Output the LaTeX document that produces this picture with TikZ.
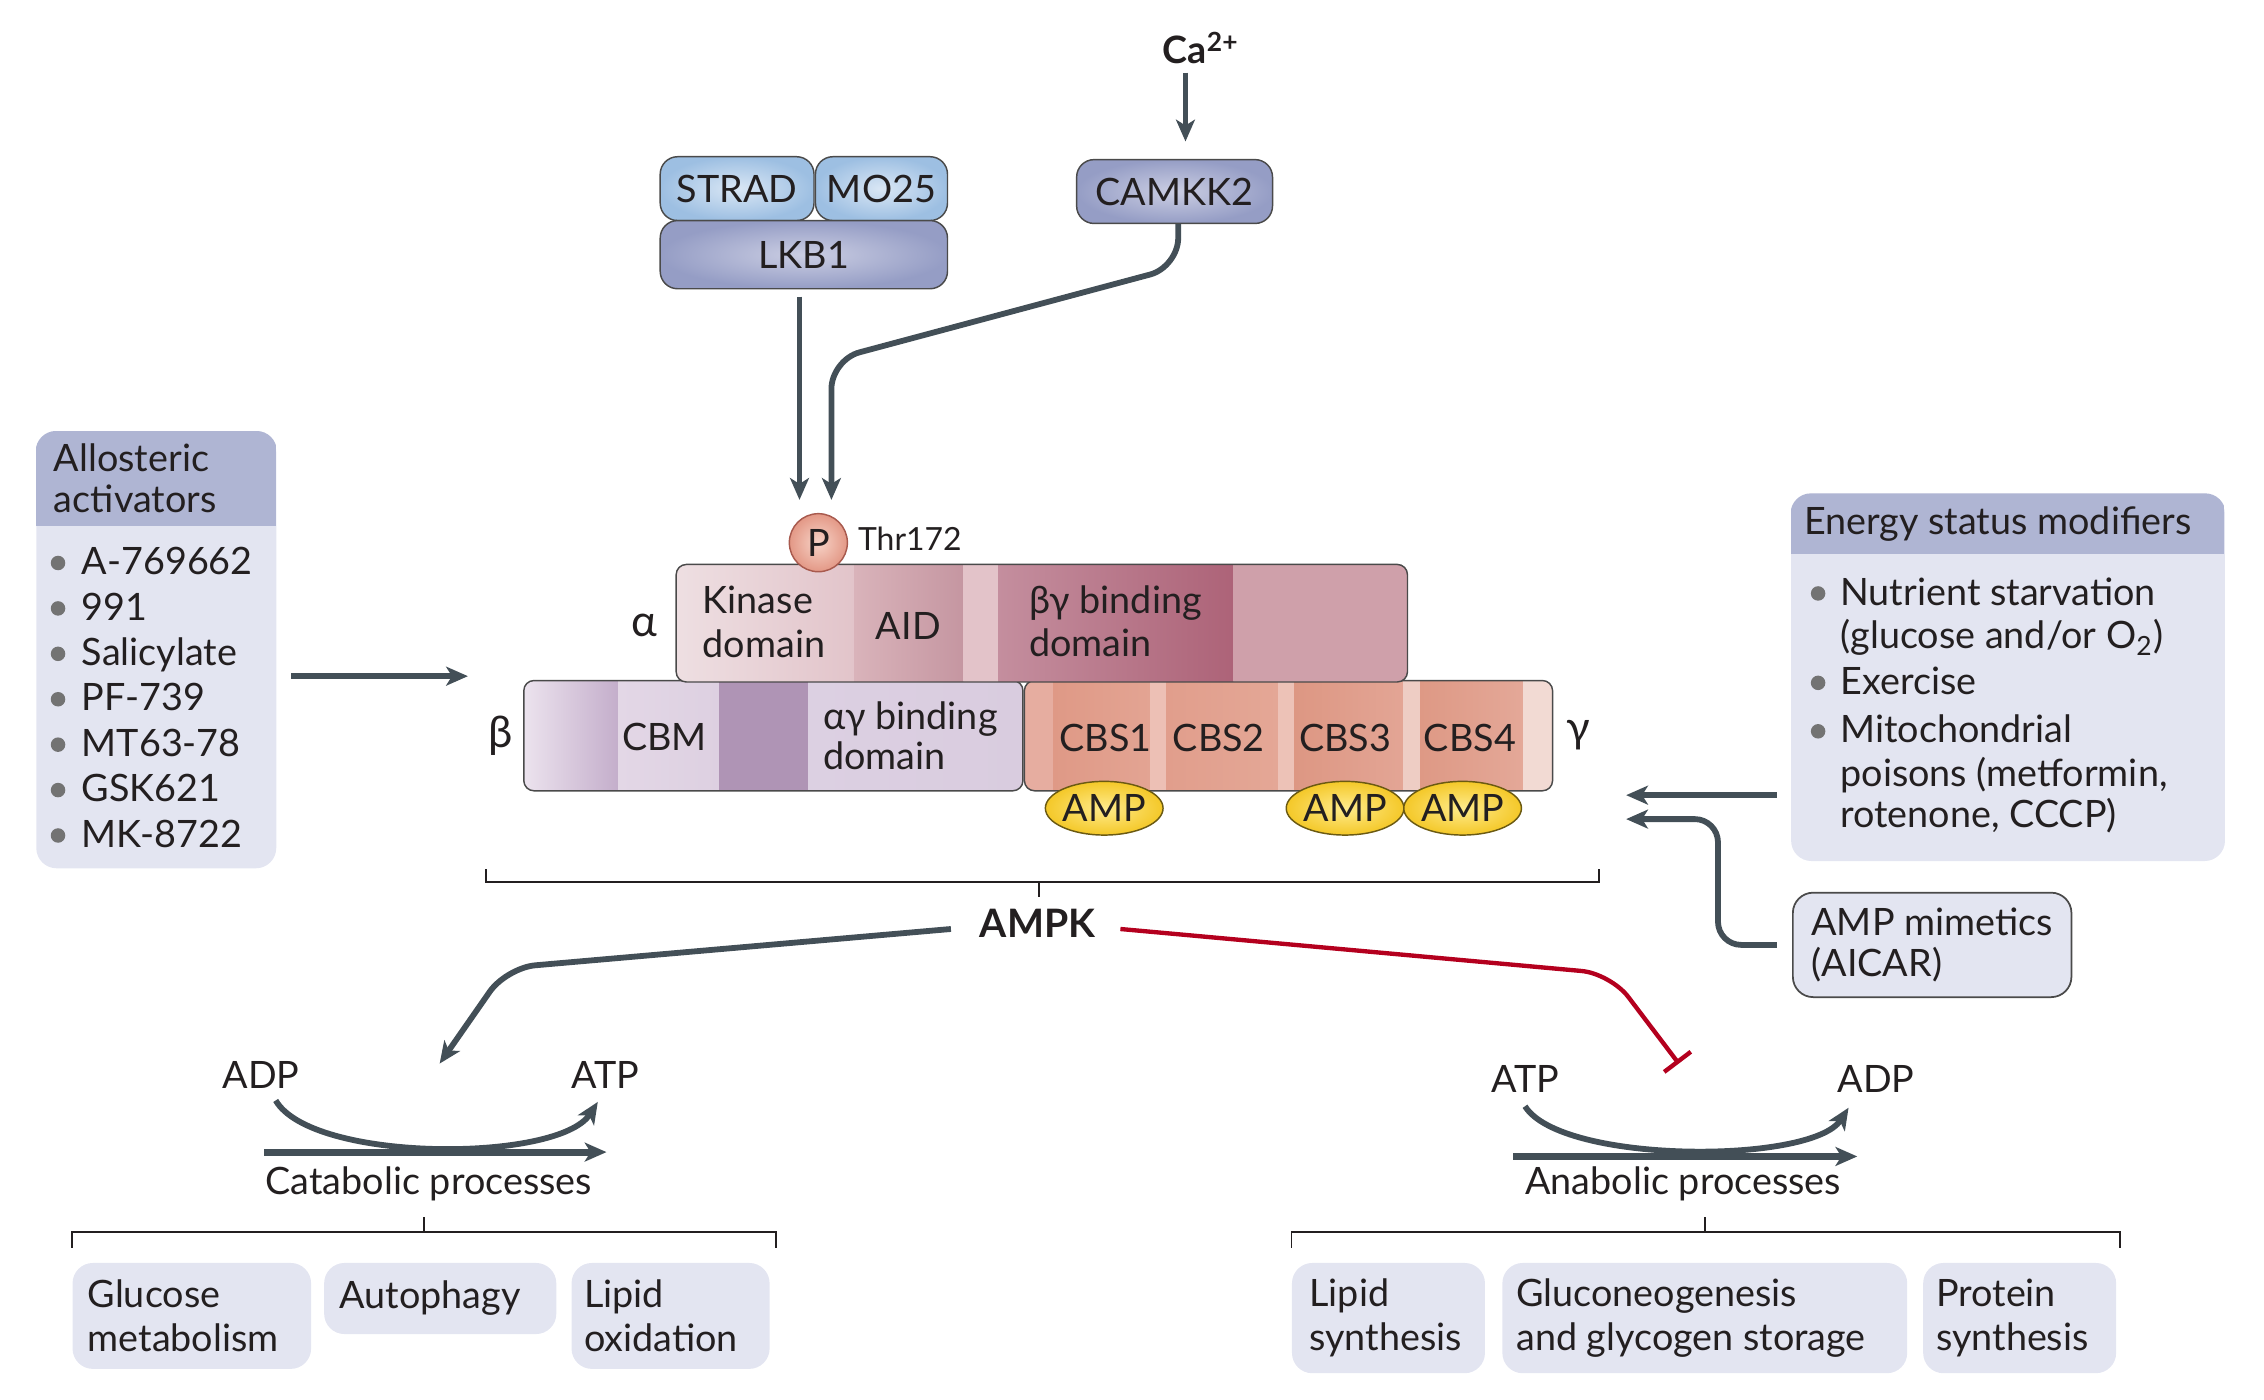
\documentclass[tikz,border=0pt]{standalone}
\usepackage{fontspec}
\setmainfont{Lato}
\usetikzlibrary{arrows.meta,shapes.geometric,positioning,calc}

\definecolor{txt}{HTML}{231F20}
\definecolor{arrgray}{HTML}{434F57}
\definecolor{inhred}{HTML}{B4001E}
\definecolor{headblue}{HTML}{AFB5D3}
\definecolor{bodyblue}{HTML}{E3E5F1}
\definecolor{bulgray}{HTML}{737373}
\definecolor{boxline}{HTML}{4A4A4A}
\definecolor{kinin}{HTML}{CBCEE3}
\definecolor{kinout}{HTML}{959DC5}
\definecolor{adin}{HTML}{DAE7F5}
\definecolor{adout}{HTML}{9DBFE2}
\definecolor{ampin}{HTML}{FFEB8C}
\definecolor{ampout}{HTML}{F4C828}
\definecolor{ampline}{HTML}{6B5A12}
\definecolor{pin}{HTML}{F7D3C7}
\definecolor{pout}{HTML}{E39886}
\definecolor{pline}{HTML}{A85A4E}

\tikzset{
  every node/.style={font=\fontsize{13}{15.5}\selectfont, text=txt},
  lbl/.style={inner sep=0pt},
  greek/.style={inner sep=0pt, font=\fontsize{15}{17}\selectfont},
  arr/.style={draw=arrgray, line width=2pt, -{Stealth[length=7.5pt,width=6.5pt,inset=2pt]}},
  bigarr/.style={arr, line width=2.4pt},
  inh/.style={draw=inhred, line width=1.5pt, -{Bar[width=11.5pt]}},
  bracket/.style={draw=txt, line width=0.6pt},
  kinase/.style={draw=boxline, line width=0.5pt, rounded corners=6pt, shading=radial, inner color=kinin, outer color=kinout, minimum height=22pt, inner sep=0pt},
  adaptor/.style={kinase, inner color=adin, outer color=adout},
  bar/.style={draw=boxline, line width=0.5pt, rounded corners=3.5pt},
  ampov/.style={ellipse, draw=ampline, line width=0.5pt, shading=radial, inner color=ampin, outer color=ampout, minimum width=39pt, minimum height=18.5pt, inner sep=0pt},
  listbody/.style={fill=bodyblue, rounded corners=7pt, anchor=north west, inner sep=0pt},
}

\begin{document}
\begin{tikzpicture}[x=0.5pt, y=-0.5pt]
\useasboundingbox (0,0) rectangle (1560.3,964.2);

% upstream kinases
\node[adaptor, minimum width=53pt] (strad) at (508,130) {STRAD};
\node[adaptor, minimum width=45.5pt] (mo25) at (607.5,130) {MO25};
\node[kinase, minimum width=99pt, minimum height=23.5pt] (lkb1) at (554,175.5) {LKB1};
\node[kinase, minimum width=67.5pt] (camkk2) at (809.5,132) {CAMKK2};
\node[lbl, anchor=base west] (ca) at (801,44) {\textbf{Ca\textsuperscript{2+}}};
\coordinate (cain) at ([shift={(3.75pt,6pt)}]camkk2.north);
\draw[arr] ($(ca.south -| cain)+(0,5.5)$) -- (cain);

% beta subunit
\begin{scope}
\clip[rounded corners=3.5pt] (361,469) rectangle (705,545);
\foreach \a/\b/\lc/\rc in {361/426/ECE3EE/C4AECB, 426/496/E3D7E6/DDD0E1, 496/557/AF94B5/AF94B5, 557/705/DCD0E2/D9CCDF}
{ \definecolor{segl}{HTML}{\lc}\definecolor{segr}{HTML}{\rc}
  \shade[left color=segl, right color=segr] (\a,469) rectangle (\b,545); }
\end{scope}
\draw[bar] (361,469) rectangle (705,545);

% gamma subunit
\begin{scope}
\clip[rounded corners=3.5pt] (706,469) rectangle (1070,545);
\foreach \a/\b/\lc/\rc in {706/726/E6ADA0/E6ADA0, 726/793/DF9986/E3A493, 793/804/EDC0B5/EDC0B5, 804/881/E19E8C/E4A796, 881/892/EDC2B7/EDC2B7, 892/967/DD9783/E3A595, 967/979/EECDC4/EECDC4, 979/1050/DE9985/E4A898, 1050/1070/F2DAD3/F2DAD3}
{ \definecolor{segl}{HTML}{\lc}\definecolor{segr}{HTML}{\rc}
  \shade[left color=segl, right color=segr] (\a,469) rectangle (\b,545); }
\end{scope}
\draw[bar] (706,469) rectangle (1070,545);

% alpha subunit
\begin{scope}
\clip[rounded corners=3.5pt] (466,389) rectangle (970,470);
\foreach \a/\b/\lc/\rc in {466/589/EEDFE2/E2C4CA, 589/664/D9B3BA/C596A1, 664/688/E3C3C9/E3C3C9, 688/850/C48E9E/AD6378, 850/970/CFA0AA/CFA0AA}
{ \definecolor{segl}{HTML}{\lc}\definecolor{segr}{HTML}{\rc}
  \shade[left color=segl, right color=segr] (\a,389) rectangle (\b,470); }
\end{scope}
\draw[bar] (466,389) rectangle (970,470);

% domain labels
\node[lbl, anchor=north west, align=left, font=\fontsize{13}{15}\selectfont] (kin) at (484,403.5) {Kinase\\domain};
\node[lbl, anchor=base] (aid) at (626,441) {AID};
\node[lbl, anchor=north west, align=left, font=\fontsize{13}{15}\selectfont] (bgbd) at (709,403) {βγ binding\\domain};
\node[lbl, anchor=base] (cbm) at (458,517) {CBM};
\node[lbl, anchor=north west, align=left, font=\fontsize{13}{13.8}\selectfont] (agbd) at (567,483) {αγ binding\\domain};
\foreach \x [count=\i] in {762,840,927,1013}
  \node[lbl, anchor=base] (cbs\i) at (\x,517.6) {CBS\i};
\node[greek, anchor=base] (alab) at (444,439) {α};
\node[greek, anchor=base] (blab) at (345,515) {β};
\node[greek, anchor=base] (glab) at (1088,512) {γ};

\foreach \x [count=\i] in {761,927,1008}
  \node[ampov] (amp\i) at (\x,557) {AMP};

% phosphorylation site
\node[circle, draw=pline, line width=0.5pt, inner color=pin, outer color=pout, minimum size=20pt, inner sep=0pt] (pp) at (564,374) {P};
\node[lbl, anchor=base west, font=\fontsize{11}{13}\selectfont] (thr) at (591,379.4) {Thr172};
\draw[arr] ([shift={(-1.5pt,-2.5pt)}]lkb1.south) -- ([shift={(-6.5pt,4.5pt)}]pp.north);
\draw[arr, rounded corners=10pt] ([xshift=1.25pt]camkk2.south) -- (812,184) -- (573,248) -- ([shift={(4.5pt,4.5pt)}]pp.north);

% AMPK
\draw[bracket] (335,599) |- (1102,608) -- (1102,599);
\draw[bracket] (716,608) -- (716,618);
\node[lbl, anchor=base, font={\fontsize{13.5}{16}\selectfont\bfseries}] (ampk) at (715,646) {AMPK};
\coordinate (catin) at (303,733);
\coordinate (anain) at (1157,733);
\draw[arr, rounded corners=10pt] ([shift={(-9.75pt,-2pt)}]ampk.west) -- (349,667) -- (catin);
\draw[inh, rounded corners=10pt] ([shift={(8.5pt,-2pt)}]ampk.east) -- (1110,671) -- (anain);

% allosteric activators
\node[listbody, minimum width=82.7pt, minimum height=150.5pt] (actbox) at (24.6,297) {};
\begin{scope}
\clip[rounded corners=7pt] (actbox.north west) rectangle (actbox.south east);
\fill[headblue] (actbox.north west) rectangle (190,362.5);
\end{scope}
\node[lbl, anchor=north west, align=left, font=\fontsize{13}{14}\selectfont] (acthead) at (36.8,305.5) {Allosteric\\activators};
\foreach \t [count=\i] in {A-769662,991,Salicylate,PF-739,MT63-78,GSK621,MK-8722}
{ \pgfmathsetmacro\y{396+31.3*(\i-1)}
  \fill[bulgray] (40,\y-8) circle (2.5pt);
  \node[lbl, anchor=base west] (act\i) at (56,\y) {\t}; }
\coordinate (actin) at (322.5,466);
\draw[arr] ($(actbox.east |- actin)+(10,0)$) -- (actin);

% energy status modifiers
\node[listbody, minimum width=149.5pt, minimum height=126.5pt] (enebox) at (1234,340) {};
\begin{scope}
\clip[rounded corners=7pt] (enebox.north west) rectangle (enebox.south east);
\fill[headblue] (enebox.north west) rectangle (1533,382);
\end{scope}
\node[lbl, anchor=base west] (enehead) at (1243,368.7) {Energy status modifiers};
\foreach \y/\b/\t [count=\i] in {417/1/Nutrient starvation, 446.6/0/{(glucose and/or O\textsubscript{2})}, 478.6/1/Exercise, 512/1/Mitochondrial, 541.7/0/{poisons (metformin,}, 570.5/0/{rotenone, CCCP)}}
{ \ifnum\b=1 \fill[bulgray] (1253,\y-8) circle (2.5pt); \fi
  \node[lbl, anchor=base west] (ene\i) at (1268,\y) {\t}; }
\coordinate (gin1) at (1120.7,548);
\coordinate (gin2) at (1120.7,564.5);
\draw[arr] ($(enebox.west |- gin1)+(-9.4,0)$) -- (gin1);

\node[listbody, draw=boxline, line width=0.6pt, minimum width=96pt, minimum height=36pt] (aicar) at (1235,614.6) {};
\node[lbl, align=left, right=6.5pt of aicar.west, font=\fontsize{13}{14.4}\selectfont] (aicart) {AMP mimetics\\(AICAR)};
\draw[arr, rounded corners=8pt] ([xshift=-5.2pt]aicar.west) -| (1184,564.5) -- (gin2);

% catabolic processes
\node[lbl, anchor=base] (adpc) at (180,750) {ADP};
\node[lbl, anchor=base] (atpc) at (417,750) {ATP};
\draw[arr] ([shift={(5pt,-4pt)}]adpc.south) .. controls +(25,43) and +(-27,42) .. ([shift={(-2.5pt,-4.5pt)}]atpc.south);
\coordinate (cats) at (182,794);
\coordinate (cate) at (418,794);
\draw[bigarr] (cats) -- (cate);
\node[lbl, anchor=base] (catp) at (295.5,823) {Catabolic processes};
\draw[bracket] (49.6,860) |- (535,849) -- (535,860);
\draw[bracket] (292,849) -- (292,839);
\node[listbody, minimum width=82.2pt, minimum height=36.5pt] (glu) at (49.6,870) {};
\node[lbl, align=left, right=5.2pt of glu.west, font=\fontsize{13}{15}\selectfont] (glut) {Glucose\\metabolism};
\node[listbody, minimum width=80pt, minimum height=24.5pt] (aut) at (223,870) {};
\node[lbl, right=5.3pt of aut.west] (autt) {Autophagy};
\node[listbody, minimum width=68.25pt, minimum height=36.5pt] (lox) at (393.5,870) {};
\node[lbl, align=left, right=4.3pt of lox.west, font=\fontsize{13}{15}\selectfont] (loxt) {Lipid\\oxidation};

% anabolic processes
\node[lbl, anchor=base] (atpa) at (1051,753) {ATP};
\node[lbl, anchor=base] (adpa) at (1293,753) {ADP};
\draw[arr] ([yshift=-4.5pt]atpa.south) .. controls +(25,40) and +(-25,39) .. ([shift={(-9.5pt,-5pt)}]adpa.south);
\coordinate (anas) at (1043,797);
\coordinate (anae) at (1280,797);
\draw[bigarr] (anas) -- (anae);
\node[lbl, anchor=base] (anap) at (1160,823) {Anabolic processes};
\draw[bracket] (890,860) |- (1461,849) -- (1461,860);
\draw[bracket] (1175,849) -- (1175,839);
\node[listbody, minimum width=66.5pt, minimum height=38pt] (lip) at (890,870) {};
\node[lbl, align=left, right=6pt of lip.west, font=\fontsize{13}{15}\selectfont] (lipt) {Lipid\\synthesis};
\node[listbody, minimum width=139.5pt, minimum height=38pt] (gng) at (1035,870) {};
\node[lbl, align=left, right=4.8pt of gng.west, font=\fontsize{13}{15}\selectfont] (gngt) {Gluconeogenesis\\and glycogen storage};
\node[listbody, minimum width=66.5pt, minimum height=38pt] (pro) at (1325,870) {};
\node[lbl, align=left, right=4.5pt of pro.west, font=\fontsize{13}{15}\selectfont] (prot) {Protein\\synthesis};
\end{tikzpicture}
\end{document}
